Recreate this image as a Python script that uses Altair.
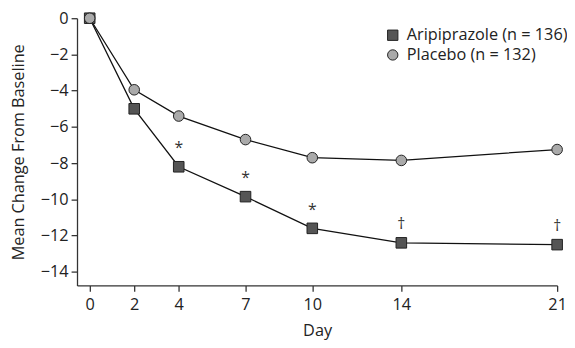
import altair as alt
import pandas as pd

days = [0, 2, 4, 7, 10, 14, 21]
ari = [0, -5.0, -8.2, -9.85, -11.6, -12.4, -12.5]
pla = [0, -3.95, -5.4, -6.7, -7.7, -7.85, -7.25]
ari_label = "Aripiprazole (n = 136)"
pla_label = "Placebo (n = 132)"
marks_days = [4, 7, 10, 14, 21]
marks_text = ["*", "*", "*", "\u2020", "\u2020"]
y_ticks = [0, -2, -4, -6, -8, -10, -12, -14]

rows = []
for d, v in zip(days, ari):
    rows.append({"day": d, "val": v, "group": ari_label})
for d, v in zip(days, pla):
    rows.append({"day": d, "val": v, "group": pla_label})
df = pd.DataFrame(rows)

ann = pd.DataFrame({
    "day": marks_days,
    "val": [ari[days.index(d)] for d in marks_days],
    "txt": marks_text,
})

FONT = "Open Sans"
FS = 16.5
xs = alt.Scale(domain=[-0.57, 21], nice=False, zero=False)
ys = alt.Scale(domain=[-14.75, 0], nice=False, zero=False)

x = alt.X("day:Q", scale=xs, axis=alt.Axis(
    values=days, title="Day", grid=False, tickSize=6, labelPadding=5,
    titlePadding=10, labelOverlap=False, labelFlush=False))
y = alt.Y("val:Q", scale=ys, axis=alt.Axis(
    values=y_ticks, title="Mean Change From Baseline",
    grid=False, tickSize=6, labelPadding=3, titlePadding=14,
    labelOverlap=False, labelFlush=False))

lines = alt.Chart(df).mark_line(color="#111", strokeWidth=1.3).encode(
    x=x, y=y, detail="group:N")

points = alt.Chart(df).mark_point(filled=True, size=115, stroke="#222",
                                  strokeWidth=1, opacity=1).encode(
    x=x, y=y,
    shape=alt.Shape("group:N", scale=alt.Scale(domain=[ari_label, pla_label],
                                               range=["square", "circle"])),
    fill=alt.Fill("group:N", scale=alt.Scale(domain=[ari_label, pla_label],
                                             range=["#555555", "#aaaaaa"]),
                  legend=alt.Legend(title=None, orient="none", legendX=312,
                                    legendY=9, labelFontSize=FS, labelFont=FONT,
                                    labelColor="#222", symbolSize=110,
                                    symbolStrokeColor="#222", symbolStrokeWidth=1,
                                    rowPadding=3, labelOffset=6, labelLimit=400)),
)

texts = alt.Chart(ann).mark_text(dy=-19, fontSize=16, color="#333",
                                 font=FONT).encode(x=x, y=y, text="txt:N")

chart = (lines + points + texts).properties(
    width=487, height=271,
    autosize=alt.AutoSizeParams(type="none"),
    padding={"left": 70, "top": 8, "right": 10, "bottom": 53},
).configure_view(stroke=None).configure_axis(
    domainWidth=1.3, tickWidth=1.3, labelOverlap=False, labelFlush=False,
    domainColor="#333", tickColor="#333", labelColor="#222", titleColor="#222",
    labelFontSize=FS, titleFontSize=FS, labelFont=FONT, titleFont=FONT,
    titleFontWeight="normal")

chart.save("out.html", embed_options={"renderer": "svg", "actions": False})
